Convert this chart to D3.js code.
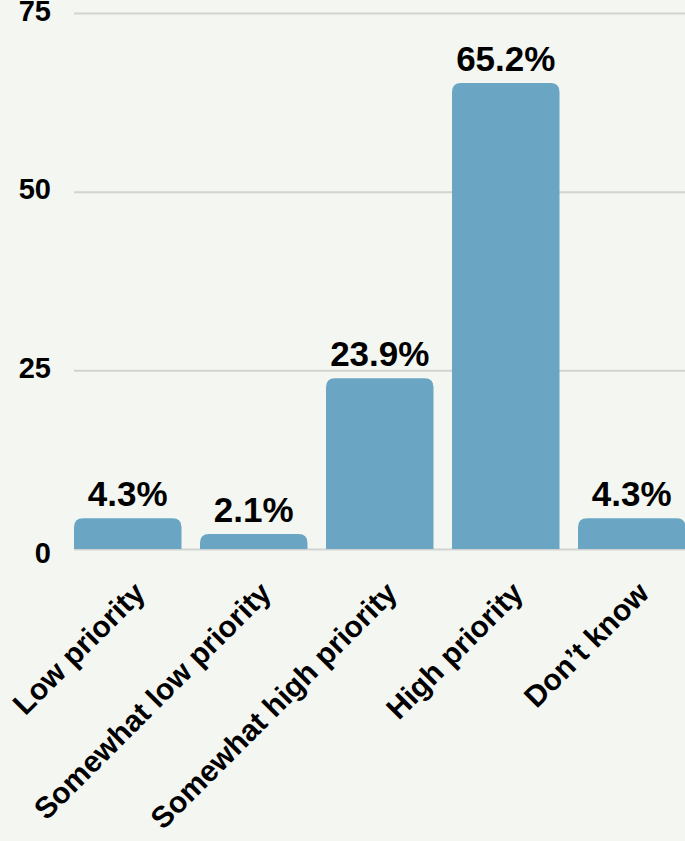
<!DOCTYPE html>
<html>
<head>
<meta charset="utf-8">
<script src="https://cdn.jsdelivr.net/npm/d3@7"></script>
<style>
  body { margin: 0; background: #f4f6f1; }
  svg { display: block; font-family: "Liberation Sans", Arial, sans-serif; font-weight: bold; }
</style>
</head>
<body>
<svg class="chart"></svg>
<script>
// categories and values
var categories = ["Low priority", "Somewhat low priority", "Somewhat high priority", "High priority", "Don\u2019t know"];
var values = [4.3, 2.1, 23.9, 65.2, 4.3];
var valueLabels = ["4.3%", "2.1%", "23.9%", "65.2%", "4.3%"];
var yTicks = [0, 25, 50, 75];

(function() {
    var width = 685, height = 841;
    var plotLeft = 74, plotRight = 685.5, plotTop = 13, plotBottom = 549;

    var svg = d3.select("svg.chart")
        .attr("width", width)
        .attr("height", height);

    svg.append("rect")
        .attr("width", width)
        .attr("height", height)
        .attr("fill", "#f4f6f1");

    // scales
    var x = d3.scaleBand()
        .domain(categories)
        .range([plotLeft, plotRight])
        .paddingInner(0.147)
        .paddingOuter(0);

    var y = d3.scaleLinear()
        .domain([0, 75])
        .range([plotBottom, plotTop]);

    // gridlines + y labels
    var yAxis = svg.append("g")
        .attr("transform", "translate(" + plotLeft + ",0)")
        .call(d3.axisLeft(y)
            .tickValues(yTicks)
            .tickSize(-(width - plotLeft))
            .tickPadding(23));

    yAxis.select(".domain").remove();
    yAxis.selectAll(".tick line")
        .attr("stroke", "#d2d3d3")
        .attr("stroke-width", 2);
    yAxis.selectAll(".tick text")
        .attr("fill", "#000")
        .attr("dy", function(d) { return d === 0 ? "0.45em" : "0.25em"; })
        .style("font-size", "29px")
        .style("font-family", "'Liberation Sans', Arial, sans-serif")
        .style("font-weight", "bold");

    // bar with rounded top corners
    function barPath(x0, y0, w, h, r) {
        r = Math.min(r, h, w / 2);
        return "M" + x0 + "," + (y0 + h) +
            "V" + (y0 + r) +
            "Q" + x0 + "," + y0 + " " + (x0 + r) + "," + y0 +
            "H" + (x0 + w - r) +
            "Q" + (x0 + w) + "," + y0 + " " + (x0 + w) + "," + (y0 + r) +
            "V" + (y0 + h) + "Z";
    }

    svg.append("g")
        .selectAll("path")
        .data(categories)
        .join("path")
        .attr("fill", "#6aa6c4")
        .attr("d", function(d, i) {
            return barPath(x(d), y(values[i]), x.bandwidth(), y(0) - y(values[i]), 9);
        });

    // value labels
    svg.append("g")
        .selectAll("text")
        .data(categories)
        .join("text")
        .attr("x", function(d) { return x(d) + x.bandwidth() / 2; })
        .attr("y", function(d, i) { return y(values[i]) - 12; })
        .attr("text-anchor", "middle")
        .attr("fill", "#000")
        .style("font-size", "35px")
        .text(function(d, i) { return valueLabels[i]; });

    // category labels, rotated
    svg.append("g")
        .selectAll("text")
        .data(categories)
        .join("text")
        .attr("transform", function(d) {
            return "translate(" + (x(d) + x.bandwidth() / 2 + 19) + "," + (y(0) + 46) + ") rotate(-45)";
        })
        .attr("text-anchor", "end")
        .attr("fill", "#000")
        .style("font-size", "30px")
        .text(function(d) { return d; });
})();
</script>
</body>
</html>
